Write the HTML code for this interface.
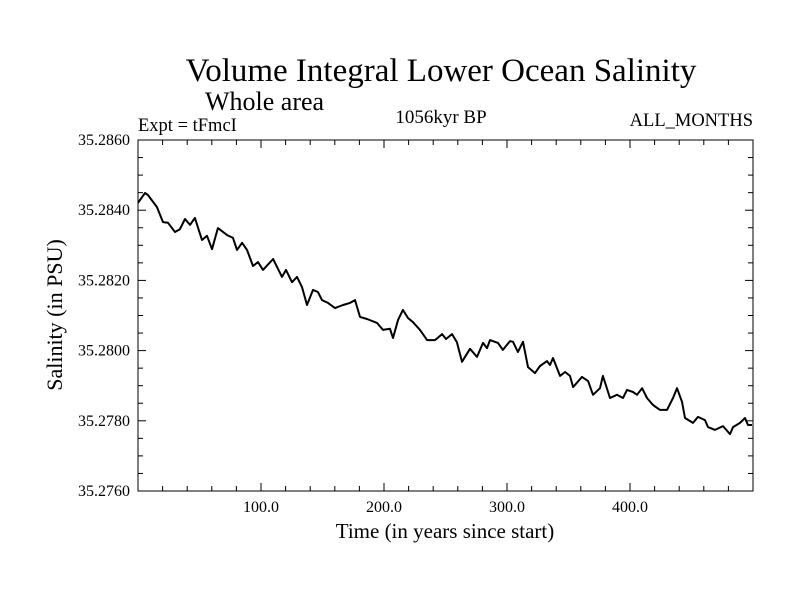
<!DOCTYPE html>
<html><head><meta charset="utf-8"><style>
html,body{margin:0;padding:0;background:#fff;}
svg text{font-family:"Liberation Serif",serif;fill:#000;}
</style></head><body>
<svg id="chart" width="800" height="600" viewBox="0 0 800 600" xmlns="http://www.w3.org/2000/svg">
<rect width="800" height="600" fill="#fff"/>
<text x="441" y="81" font-size="33" text-anchor="middle">Volume Integral Lower Ocean Salinity</text>
<text x="205" y="110" font-size="26">Whole area</text>
<text x="138" y="131" font-size="18.5">Expt = tFmcI</text>
<text x="441" y="123" font-size="19" text-anchor="middle">1056kyr BP</text>
<text x="753" y="126" font-size="18.5" text-anchor="end">ALL_MONTHS</text>
<text x="445" y="538" font-size="21" text-anchor="middle">Time (in years since start)</text>
<text x="0" y="0" font-size="22" text-anchor="middle" transform="translate(62,315) rotate(-90)">Salinity (in PSU)</text>
<g id="axes"></g>
<path id="series" fill="none" stroke="#000" stroke-width="2" stroke-linejoin="round"/>
<rect x="138" y="140" width="615" height="351" fill="none" stroke="#000" stroke-width="1"/>
</svg>
<script>
const years=[0,5.7,8.1,15.4,20.3,24.4,30.1,34.1,38.2,42.3,46.3,52.0,56.1,60.2,65.0,72.4,77.2,80.5,84.6,88.6,93.5,97.6,101.6,109.8,117.1,120.3,125.2,129.3,133.3,137.4,142.3,146.3,149.6,154.5,160.2,166.7,172.4,176.4,180.5,186.2,194.3,199.2,204.9,207.3,211.4,215.4,219.5,223.6,229.3,235.0,241.5,247.2,250.4,255.3,259.3,263.4,269.9,275.6,280.5,283.7,286.2,292.7,296.7,302.4,304.9,308.9,313.0,317.1,322.8,326.8,332.5,335.0,337.4,343.1,347.2,351.2,353.7,361.0,365.9,369.9,375.6,378.0,383.7,389.4,394.3,397.6,402.4,405.7,409.8,413.8,418.7,424.4,430.1,435.0,438.2,442.3,444.7,451.2,455.3,461.0,463.4,469.1,475.6,481.3,483.7,489.4,493.5,495.9,499.2];
const salinity=[35.28421,35.28449,35.28443,35.28409,35.28366,35.28364,35.28338,35.28346,35.28375,35.28358,35.28378,35.28315,35.28327,35.28289,35.28349,35.28329,35.28321,35.28287,35.28307,35.28287,35.28241,35.28252,35.28230,35.28261,35.28210,35.28230,35.28195,35.28210,35.28181,35.28130,35.28173,35.28167,35.28144,35.28136,35.28121,35.28130,35.28136,35.28144,35.28096,35.28090,35.28079,35.28059,35.28062,35.28036,35.28087,35.28116,35.28093,35.28081,35.28059,35.28030,35.28030,35.28047,35.28033,35.28047,35.28024,35.27968,35.28005,35.27982,35.28022,35.28007,35.28030,35.28022,35.28002,35.28027,35.28025,35.27996,35.28025,35.27953,35.27936,35.27956,35.27970,35.27959,35.27979,35.27928,35.27939,35.27928,35.27896,35.27925,35.27913,35.27874,35.27893,35.27928,35.27865,35.27874,35.27865,35.27888,35.27882,35.27874,35.27893,35.27865,35.27845,35.27831,35.27831,35.27865,35.27893,35.27854,35.27808,35.27794,35.27811,35.27802,35.27782,35.27774,35.27785,35.27762,35.27782,35.27794,35.27808,35.27788,35.27788];
const xTicks=[100,200,300,400];
const xTickLabels=["100.0","200.0","300.0","400.0"];
const yTicks=[35.276,35.278,35.280,35.282,35.284,35.286];
const yTickLabels=["35.2760","35.2780","35.2800","35.2820","35.2840","35.2860"];
const X0=138,X1=753,Y0=491,Y1=140,XMIN=0,XMAX=500,YMIN=35.276,YMAX=35.286;
function sx(v){return X0+(v-XMIN)/(XMAX-XMIN)*(X1-X0);}
function sy(v){return Y0-(v-YMIN)/(YMAX-YMIN)*(Y0-Y1);}
const NS="http://www.w3.org/2000/svg";
const g=document.getElementById('axes');
function line(x1,y1,x2,y2,name){const l=document.createElementNS(NS,'line');l.setAttribute('x1',x1);l.setAttribute('y1',y1);l.setAttribute('x2',x2);l.setAttribute('y2',y2);l.setAttribute('stroke','#000');l.setAttribute('stroke-width','1');


g.appendChild(l);}
function txt(x,y,s,anchor,name){const t=document.createElementNS(NS,'text');t.setAttribute('x',x);t.setAttribute('y',y);t.setAttribute('font-size','16');t.setAttribute('text-anchor',anchor);t.textContent=s;


g.appendChild(t);}
for(let v=20;v<XMAX;v+=20){const x=sx(v);const major=v%100===0;const L=major?8:5;line(x,Y0,x,Y0-L,'x-tick');line(x,Y1,x,Y1+L,'x-tick-top');}
xTicks.forEach((v,i)=>txt(sx(v),512,xTickLabels[i],'middle','x-tick-label'));
for(let k=1;k<20;k++){const v=YMIN+k*0.0005;const y=sy(v);const major=k%4===0;const L=major?8:5;line(X0,y,X0+L,y,'y-tick');line(X1,y,X1-L,y,'y-tick-right');}
yTicks.forEach((v,i)=>txt(130,sy(v)+5,yTickLabels[i],'end','y-tick-label'));
let d='';years.forEach((v,i)=>{d+=(i?'L':'M')+sx(v).toFixed(1)+' '+sy(salinity[i]).toFixed(1);});
document.getElementById('series').setAttribute('d',d);
</script>
</body></html>
